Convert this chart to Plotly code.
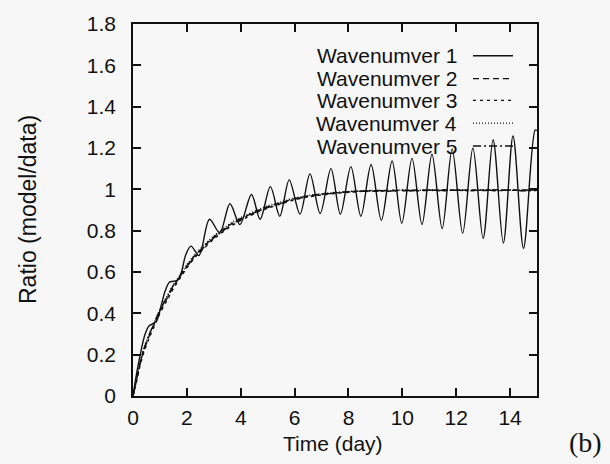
import plotly.graph_objects as go

# Wavenumber 1: oscillating ratio (peaks / troughs and early rise)
t_wn1 = [0, 0.15, 0.3, 0.45, 0.6, 0.75, 0.9, 1.05, 1.2, 1.35, 1.5, 1.65, 1.8, 1.95,
         2.15, 2.45, 2.84, 3.22, 3.6, 3.97, 4.4, 4.72, 5.1, 5.45, 5.8, 6.2, 6.57,
         6.95, 7.35, 7.7, 8.09, 8.46, 8.84, 9.22, 9.62, 9.98, 10.36, 10.73, 11.1,
         11.48, 11.85, 12.24, 12.62, 13.0, 13.37, 13.75, 14.11, 14.5, 14.93, 15.0]
wn1 = [0, 0.12, 0.22, 0.3, 0.34, 0.35, 0.37, 0.44, 0.51, 0.55, 0.555, 0.56, 0.6, 0.68,
       0.725, 0.68, 0.855, 0.79, 0.93, 0.83, 0.975, 0.855, 1.013, 0.87, 1.046, 0.88,
       1.075, 0.883, 1.10, 0.88, 1.11, 0.87, 1.12, 0.85, 1.137, 0.836, 1.15, 0.83,
       1.17, 0.81, 1.196, 0.787, 1.20, 0.763, 1.24, 0.74, 1.258, 0.715, 1.287, 1.285]

# Wavenumbers 2-5: smooth rise towards 1
t_s = [0, 0.1, 0.25, 0.4, 0.6, 0.8, 1.0, 1.25, 1.5, 1.75, 2.0, 2.3, 2.6, 3.0, 3.4,
       3.8, 4.2, 4.6, 5.0, 5.5, 6.0, 6.5, 7.0, 7.5, 8.0, 8.5, 9.0, 9.5, 10.0, 10.5,
       11.0, 11.5, 12.0, 12.5, 13.0, 13.5, 14.0, 14.5, 15.0]
wn2 = [0, 0.06, 0.15, 0.22, 0.29, 0.35, 0.41, 0.47, 0.53, 0.58, 0.63, 0.68, 0.72,
       0.77, 0.81, 0.845, 0.87, 0.895, 0.915, 0.935, 0.955, 0.968, 0.977, 0.983,
       0.988, 0.992, 0.99, 0.996, 0.993, 0.997, 0.994, 0.998, 0.995, 0.997, 0.994,
       0.998, 0.995, 0.997, 0.996]
wn3 = [0, 0.05, 0.14, 0.21, 0.28, 0.34, 0.40, 0.46, 0.52, 0.57, 0.62, 0.67, 0.71,
       0.76, 0.80, 0.835, 0.862, 0.888, 0.908, 0.93, 0.95, 0.963, 0.973, 0.98,
       0.986, 0.99, 0.993, 0.991, 0.995, 0.992, 0.996, 0.993, 0.997, 0.994, 0.996,
       0.993, 0.997, 0.994, 0.995]
wn4 = [0, 0.07, 0.16, 0.23, 0.30, 0.36, 0.42, 0.48, 0.54, 0.585, 0.635, 0.685, 0.725,
       0.775, 0.815, 0.85, 0.875, 0.9, 0.92, 0.94, 0.958, 0.97, 0.979, 0.985, 0.99,
       0.993, 0.995, 0.993, 0.997, 0.995, 0.998, 0.995, 0.998, 0.996, 0.998, 0.996,
       0.998, 0.996, 0.997]
wn5 = [0, 0.06, 0.15, 0.225, 0.295, 0.355, 0.415, 0.475, 0.535, 0.58, 0.625, 0.675,
       0.715, 0.765, 0.805, 0.84, 0.868, 0.892, 0.912, 0.932, 0.952, 0.965, 0.975,
       0.982, 0.987, 0.991, 0.994, 0.992, 0.996, 0.993, 0.997, 0.994, 0.996, 0.993,
       0.997, 0.994, 0.996, 0.993, 0.995]

series_names = ["Wavenumver 1", "Wavenumver 2", "Wavenumver 3", "Wavenumver 4", "Wavenumver 5"]
dashes = ["solid", "6px,4px", "3px,4px", "1px,2px", "8px,3px,2px,3px"]

x_ticks = [0, 2, 4, 6, 8, 10, 12, 14]
y_ticks = [0, 0.2, 0.4, 0.6, 0.8, 1.0, 1.2, 1.4, 1.6, 1.8]

ink = "#111111"
bg = "#f7f7f7"
sans = "Liberation Sans, Arial"

fig = go.Figure()
data = [(t_wn1, wn1), (t_s, wn2), (t_s, wn3), (t_s, wn4), (t_s, wn5)]
for (tx, vy), name, dash in zip(data, series_names, dashes):
    fig.add_trace(go.Scatter(
        x=tx, y=vy, mode="lines", name=name,
        line=dict(color=ink, width=1.4, dash=dash, shape="spline", smoothing=0.9),
        showlegend=False,
    ))

# key in the upper right: label then line sample
L, T, W, H = 133, 21, 404, 375
def px(xp):
    return (xp - L) / W
def py(yp):
    return (T + H - yp) / H

key_rows = [53, 76, 98, 121, 144]
for name, dash, yr in zip(series_names, dashes, key_rows):
    fig.add_annotation(x=px(459), y=py(yr), xref="paper", yref="paper",
                       text=name, showarrow=False, xanchor="right", yanchor="middle",
                       font=dict(family=sans, size=21, color=ink))
    fig.add_shape(type="line", xref="paper", yref="paper",
                  x0=px(473), x1=px(513), y0=py(yr), y1=py(yr),
                  line=dict(color=ink, width=1.3, dash=dash))

fig.add_annotation(x=px(28), y=0.5, xref="paper", yref="paper", text="Ratio (model/data)",
                   textangle=-90, showarrow=False, xanchor="center", yanchor="middle",
                   font=dict(family=sans, size=23, color=ink))
fig.add_annotation(x=px(333), y=py(444), xref="paper", yref="paper", text="Time (day)",
                   showarrow=False, xanchor="center", yanchor="middle",
                   font=dict(family=sans, size=21, color=ink))
fig.add_annotation(x=px(585), y=py(443), xref="paper", yref="paper", text="(b)",
                   showarrow=False, xanchor="center", yanchor="middle",
                   font=dict(family="Liberation Serif, Times New Roman", size=28, color=ink))

axis_common = dict(showline=True, linecolor=ink, linewidth=1.5, mirror="ticks",
                   ticks="inside", ticklen=8, tickwidth=1.5, tickcolor=ink,
                   showgrid=False, zeroline=False,
                   tickfont=dict(family=sans, size=21, color=ink))

fig.update_layout(
    width=610, height=464,
    margin=dict(l=L, r=610 - L - W, t=T, b=464 - T - H),
    paper_bgcolor=bg, plot_bgcolor=bg,
    xaxis=dict(range=[0, 15], tickvals=x_ticks, ticklabelstandoff=2, **axis_common),
    yaxis=dict(range=[0, 1.8], tickvals=y_ticks, ticklabelstandoff=11, **axis_common),
)

fig.write_html("out.html")
